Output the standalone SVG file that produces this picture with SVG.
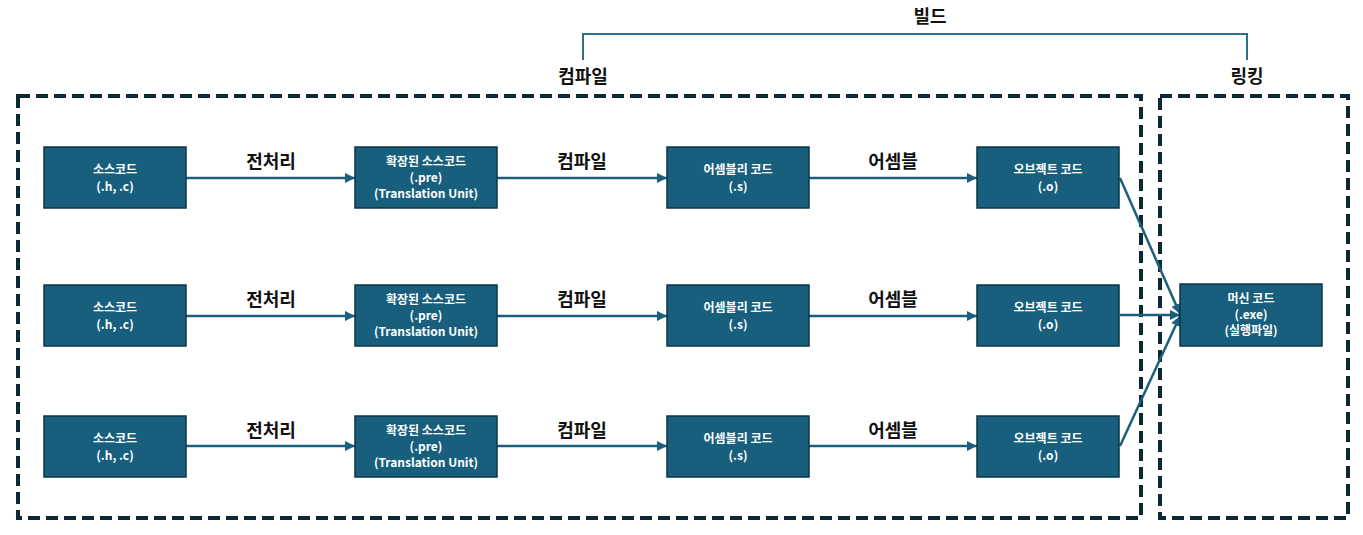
<svg xmlns="http://www.w3.org/2000/svg" width="1363" height="535" viewBox="0 0 1363 535">
<style>
.box{fill:#185f7e;stroke:#0c3447;stroke-width:1.5}
.bt{fill:#fff;font-family:"Noto Sans CJK KR","Noto Sans",sans-serif;font-size:12px;font-weight:bold;text-anchor:middle}
.lb{fill:#111;font-family:"Noto Sans CJK KR","Noto Sans",sans-serif;font-size:18px;font-weight:bold;text-anchor:middle}
.dash{fill:none;stroke:#0b2835;stroke-width:4;stroke-dasharray:12,6}
.con{fill:none;stroke:#1c5f7d;stroke-width:2.5}
</style>
<defs>
<marker id="ah" viewBox="0 0 10 10" refX="10" refY="5" markerWidth="4" markerHeight="4" orient="auto" markerUnits="strokeWidth">
<path d="M0,0 L10,5 L0,10 z" fill="#1c5f7d"/>
</marker>
</defs>
<rect width="1363" height="535" fill="#fff"/>
<g id="groups">
<rect class="dash" x="18" y="96" width="1123" height="422"/>
<rect class="dash" x="1160" y="96" width="188" height="422"/>
</g>
<g id="labels">
<path d="M583,60 V34 H1247 V60" fill="none" stroke="#2f6f8c" stroke-width="2"/>
<text class="lb" x="930" y="23">빌드</text>
<text class="lb" x="583" y="83">컴파일</text>
<text class="lb" x="1247" y="83">링킹</text>
</g>
<g id="connectors">
<line class="con" x1="186" y1="178" x2="355" y2="178" marker-end="url(#ah)"/>
<line class="con" x1="497" y1="178" x2="667" y2="178" marker-end="url(#ah)"/>
<line class="con" x1="809" y1="178" x2="977" y2="178" marker-end="url(#ah)"/>
<line class="con" x1="186" y1="316" x2="355" y2="316" marker-end="url(#ah)"/>
<line class="con" x1="497" y1="316" x2="667" y2="316" marker-end="url(#ah)"/>
<line class="con" x1="809" y1="316" x2="977" y2="316" marker-end="url(#ah)"/>
<line class="con" x1="186" y1="446" x2="355" y2="446" marker-end="url(#ah)"/>
<line class="con" x1="497" y1="446" x2="667" y2="446" marker-end="url(#ah)"/>
<line class="con" x1="809" y1="446" x2="977" y2="446" marker-end="url(#ah)"/>
<line class="con" x1="1120" y1="178" x2="1180" y2="314" marker-end="url(#ah)"/>
<line class="con" x1="1120" y1="315" x2="1180" y2="315" marker-end="url(#ah)"/>
<line class="con" x1="1120" y1="446" x2="1180" y2="316" marker-end="url(#ah)"/>
<text class="lb" x="271" y="168">전처리</text>
<text class="lb" x="582" y="168">컴파일</text>
<text class="lb" x="893" y="168">어셈블</text>
<text class="lb" x="271" y="306">전처리</text>
<text class="lb" x="582" y="306">컴파일</text>
<text class="lb" x="893" y="306">어셈블</text>
<text class="lb" x="271" y="437">전처리</text>
<text class="lb" x="582" y="437">컴파일</text>
<text class="lb" x="893" y="437">어셈블</text>
</g>
<g id="src1"><rect class="box" x="44" y="147" width="142" height="61"/><text class="bt" x="115" y="174">소스코드</text><text class="bt" x="115" y="191">(.h, .c)</text></g>
<g id="pre1"><rect class="box" x="355" y="147" width="142" height="61"/><text class="bt" x="426" y="166">확장된 소스코드</text><text class="bt" x="426" y="182">(.pre)</text><text class="bt" x="426" y="198">(Translation Unit)</text></g>
<g id="asm1"><rect class="box" x="667" y="147" width="142" height="61"/><text class="bt" x="738" y="174">어셈블리 코드</text><text class="bt" x="738" y="191">(.s)</text></g>
<g id="obj1"><rect class="box" x="977" y="147" width="142" height="61"/><text class="bt" x="1048" y="174">오브젝트 코드</text><text class="bt" x="1048" y="191">(.o)</text></g>
<g id="src2"><rect class="box" x="44" y="285" width="142" height="61"/><text class="bt" x="115" y="312">소스코드</text><text class="bt" x="115" y="329">(.h, .c)</text></g>
<g id="pre2"><rect class="box" x="355" y="285" width="142" height="61"/><text class="bt" x="426" y="304">확장된 소스코드</text><text class="bt" x="426" y="320">(.pre)</text><text class="bt" x="426" y="336">(Translation Unit)</text></g>
<g id="asm2"><rect class="box" x="667" y="285" width="142" height="61"/><text class="bt" x="738" y="312">어셈블리 코드</text><text class="bt" x="738" y="329">(.s)</text></g>
<g id="obj2"><rect class="box" x="977" y="285" width="142" height="61"/><text class="bt" x="1048" y="312">오브젝트 코드</text><text class="bt" x="1048" y="329">(.o)</text></g>
<g id="src3"><rect class="box" x="44" y="416" width="142" height="61"/><text class="bt" x="115" y="443">소스코드</text><text class="bt" x="115" y="460">(.h, .c)</text></g>
<g id="pre3"><rect class="box" x="355" y="416" width="142" height="61"/><text class="bt" x="426" y="435">확장된 소스코드</text><text class="bt" x="426" y="451">(.pre)</text><text class="bt" x="426" y="467">(Translation Unit)</text></g>
<g id="asm3"><rect class="box" x="667" y="416" width="142" height="61"/><text class="bt" x="738" y="443">어셈블리 코드</text><text class="bt" x="738" y="460">(.s)</text></g>
<g id="obj3"><rect class="box" x="977" y="416" width="142" height="61"/><text class="bt" x="1048" y="443">오브젝트 코드</text><text class="bt" x="1048" y="460">(.o)</text></g>
<g id="machine"><rect class="box" x="1180" y="284" width="142" height="62"/><text class="bt" x="1251" y="303">머신 코드</text><text class="bt" x="1251" y="319">(.exe)</text><text class="bt" x="1251" y="335">(실행파일)</text></g>
</svg>
